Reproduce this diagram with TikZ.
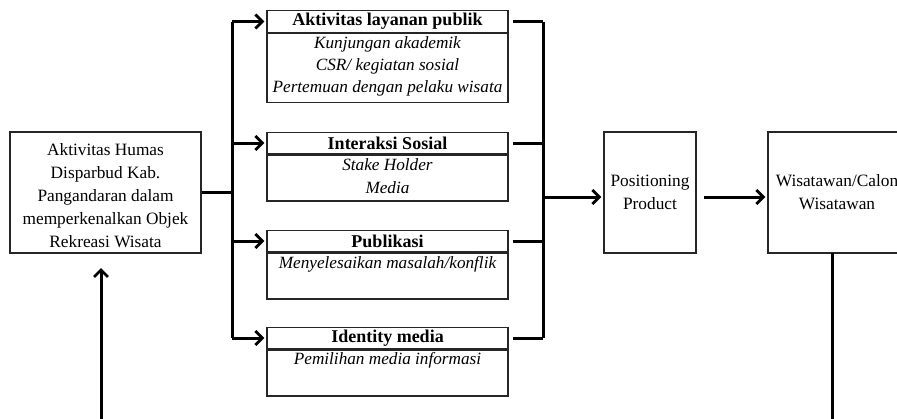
\documentclass[tikz,border=0pt]{standalone}
\usepackage{fontspec}
\setmainfont{Liberation Serif}
\usetikzlibrary{arrows.meta}
\begin{document}
\begin{tikzpicture}[x=1pt,y=-1pt,
  box/.style={draw=black!85,line width=1.3pt,inner sep=0pt,align=center,font=\fontsize{17.3}{23}\selectfont},
  ttl/.style={draw=black!85,line width=1.3pt,inner sep=0pt,minimum width=241pt,minimum height=21.5pt,font=\bfseries\fontsize{18}{18}\selectfont},
  body/.style={draw=black!85,line width=1.3pt,inner sep=0pt,minimum width=241pt},
  itl/.style={inner sep=0pt,font=\itshape\fontsize{17.2}{18}\selectfont},
  conn/.style={line width=3pt,line join=miter},
  arr/.style={conn,-{Straight Barb[length=7pt,width=14pt,line width=2.8pt]},shorten >=2pt}
]
\useasboundingbox (0,0) rectangle (897,418);
\clip (0,0) rectangle (897,418);
% left box
\node[box,minimum width=191pt,minimum height=121pt] (lb) at (105.5,192.5) {};
\node[box,draw=none] (lbt) at (105.5,196)
  {Aktivitas Humas\\Disparbud Kab.\\Pangandaran dalam\\memperkenalkan Objek\\Rekreasi Wisata};
% category boxes
\node[ttl] (t1) at (387.5,21.5) {Aktivitas layanan publik};
\node[body,minimum height=69pt,anchor=north] (b1) at (t1.south) {};
\node[itl] (b1a) at (387.5,44) {Kunjungan akademik};
\node[itl] (b1b) at (387.5,66) {CSR/ kegiatan sosial};
\node[itl] (b1c) at (387.5,88.5) {Pertemuan dengan pelaku wisata};
\node[ttl] (t2) at (387.5,143) {Interaksi Sosial};
\node[body,minimum height=46pt,anchor=north] (b2) at (t2.south) {};
\node[itl] (b2a) at (387.5,165) {Stake Holder};
\node[itl] (b2b) at (387.5,187.5) {Media};
\node[ttl] (t3) at (387.5,241) {Publikasi};
\node[body,minimum height=46pt,anchor=north] (b3) at (t3.south) {};
\node[itl] (b3a) at (387.5,264) {Menyelesaikan masalah/konflik};
\node[ttl] (t4) at (387.5,338) {Identity media};
\node[body,minimum height=46pt,anchor=north] (b4) at (t4.south) {};
\node[itl] (b4a) at (387.5,360.5) {Pemilihan media informasi};
% right boxes
\node[box,minimum width=92pt,minimum height=121pt] (pp) at (650,192.5) {Positioning\\Product};
\node[box,minimum width=138pt,minimum height=121pt] (wi) at (837,192.5) {Wisatawan/Calon\\Wisatawan};
% coordinates
\coordinate (lt1) at (232,21.5);
\coordinate (lt4) at (232,338);
\coordinate (lj) at (232,192.5);
\coordinate (rt1) at (543,21.5);
\coordinate (rt4) at (543,338);
\coordinate (rj) at (543,197);
\coordinate (pe) at (704,197);
\coordinate (wb) at (832,253);
\coordinate (we) at (832,425);
\coordinate (ub) at (101,425);
\coordinate (ut) at (101,253);
% left connectors
\draw[conn] (lb.east |- lj) -- (lj);
\draw[conn] (lt1) -- (lt4);
\draw[arr] (lt1) -- (t1.west);
\draw[arr] (lt1 |- t2.west) -- (t2.west);
\draw[arr] (lt1 |- t3.west) -- (t3.west);
\draw[arr] (lt4) -- (t4.west);
% right connectors
\draw[conn] (rt1) -- (rt4);
\draw[conn,shorten <=4pt] (t1.east) -- (rt1);
\draw[conn,shorten <=4pt] (t2.east) -- (rt1 |- t2.east);
\draw[conn,shorten <=4pt] (t3.east) -- (rt1 |- t3.east);
\draw[conn,shorten <=4pt] (t4.east) -- (rt4);
\draw[arr] (rj) -- (rj -| pp.west);
\draw[arr] (pe) -- (rj -| wi.west);
% bottom lines
\draw[conn] (wb) -- (we);
\draw[arr,shorten >=15pt] (ub) -- (ut);
\end{tikzpicture}
\end{document}
